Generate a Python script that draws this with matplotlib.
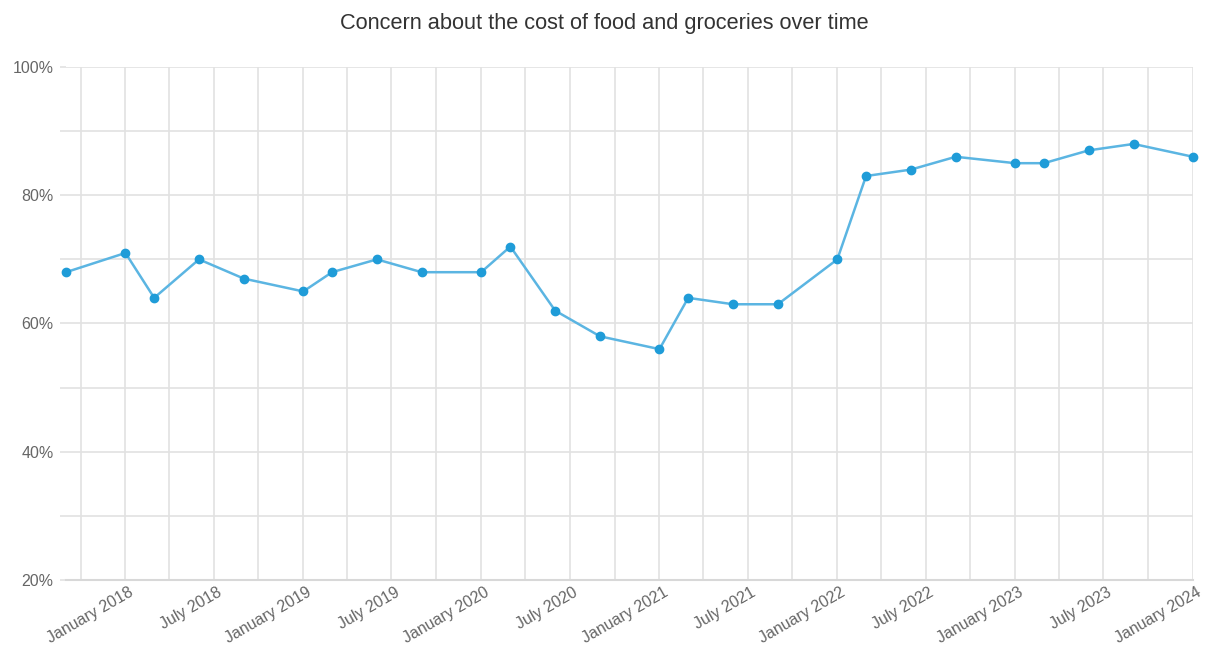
import matplotlib
matplotlib.use("Agg")
import matplotlib.pyplot as plt
import matplotlib.dates as mdates
import matplotlib.transforms as mtransforms
from matplotlib.ticker import MultipleLocator, FuncFormatter
import datetime as dt

plt.rcParams['font.family'] = ['Liberation Sans', 'DejaVu Sans']

title = "Concern about the cost of food and groceries over time"

dates = ["2017-09-01", "2018-01-01", "2018-03-01", "2018-06-01", "2018-09-01",
         "2019-01-01", "2019-03-01", "2019-06-01", "2019-09-01",
         "2020-01-01", "2020-03-01", "2020-06-01", "2020-09-01",
         "2021-01-01", "2021-03-01", "2021-06-01", "2021-09-01",
         "2022-01-01", "2022-03-01", "2022-06-01", "2022-09-01",
         "2023-01-01", "2023-03-01", "2023-06-01", "2023-09-01",
         "2024-01-01"]
values = [68, 71, 64, 70, 67,
          65, 68, 70, 68,
          68, 72, 62, 58,
          56, 64, 63, 63,
          70, 83, 84, 86,
          85, 85, 87, 88,
          86]

x = [dt.datetime.strptime(d, "%Y-%m-%d") for d in dates]

W, H = 1213, 647
fig = plt.figure(figsize=(W / 100, H / 100), dpi=100)
ax = fig.add_axes([66 / W, 1 - 580 / H, (1193 - 66) / W, (580 - 67) / H])

grid_c = "#e2e2e2"
ax.plot(x, values, color="#5bb5e2", lw=1.8, marker="o", markersize=6,
        markerfacecolor="#1f9cd8", markeredgecolor="#1f9cd8", zorder=3, clip_on=False)

ax.set_ylim(20, 100)
ax.set_xlim(x[0], x[-1])
ax.yaxis.set_major_locator(MultipleLocator(20))
ax.yaxis.set_minor_locator(MultipleLocator(10))
ax.yaxis.set_major_formatter(FuncFormatter(lambda v, p: f"{int(v)}%"))

ax.xaxis.set_major_locator(mdates.MonthLocator(bymonth=[1, 7]))
ax.xaxis.set_minor_locator(mdates.MonthLocator(bymonth=[4, 10]))
ax.xaxis.set_major_formatter(mdates.DateFormatter("%B %Y"))

ax.grid(True, which="both", color=grid_c, lw=1.2)
ax.set_axisbelow(True)
for s in ax.spines.values():
    s.set_visible(False)
ax.axhline(20, color="#d8d8d8", lw=1.5, zorder=1, clip_on=False)

ax.tick_params(axis="y", which="major", length=4, color=grid_c, width=1.2,
               labelsize=11.5, labelcolor="#666666", pad=5)
ax.tick_params(axis="y", which="minor", length=4, color=grid_c, width=1.2)
ax.tick_params(axis="x", which="both", length=0, labelsize=11.5,
               labelcolor="#666666", pad=8)
offset = mtransforms.ScaledTranslation(7 / 100, 0, fig.dpi_scale_trans)
for lab in ax.get_xticklabels():
    lab.set_rotation(30)
    lab.set_ha("right")
    lab.set_va("center")
    lab.set_rotation_mode("anchor")
    lab.set_transform(lab.get_transform() + offset)

fig.text(604 / W, 1 - 23 / H, title, ha="center", va="center",
         fontsize=15.7, color="#333333")

fig.savefig("out.png", dpi=100)
